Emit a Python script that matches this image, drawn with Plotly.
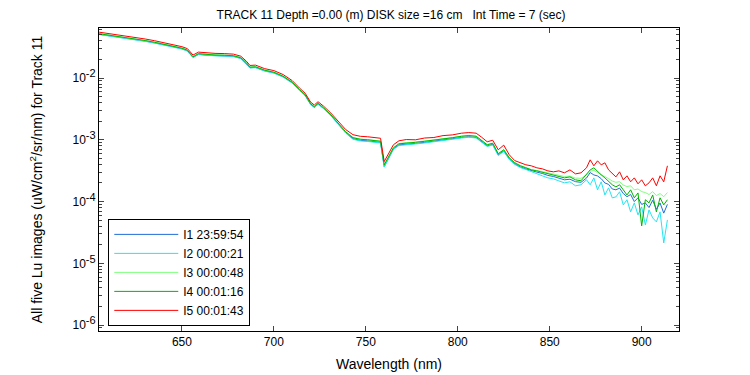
import plotly.graph_objects as go

wavelength = [605, 610, 615, 620, 625, 630, 635, 640, 645, 650,
              653, 656, 659, 663, 668, 673, 678,
              682, 685, 687, 690, 695, 700, 705, 710,
              714, 717, 720, 722, 724, 727, 731, 735, 739,
              743, 747, 751, 755, 758, 760, 762, 765, 768, 772, 777,
              782, 787, 792, 797, 802, 806, 810, 813, 816, 819,
              822, 825, 828, 831, 834, 837,
              840, 843, 846, 849, 852, 855, 858, 861, 864, 867,
              870, 872, 874, 876, 878, 880, 882, 884, 886, 888,
              890, 892, 894, 896, 898, 900, 902, 904, 906, 908,
              910, 912, 914]

lu_i1 = [5.12e-2, 4.88e-2, 4.58e-2, 4.36e-2, 4.20e-2, 3.97e-2, 3.72e-2, 3.49e-2, 3.23e-2, 2.98e-2,
         2.76e-2, 2.17e-2, 2.43e-2, 2.35e-2, 2.31e-2, 2.29e-2, 2.25e-2,
         2.09e-2, 1.73e-2, 1.47e-2, 1.49e-2, 1.31e-2, 1.22e-2, 1.05e-2, 8.38e-3,
         6.33e-3, 5.25e-3, 3.75e-3, 3.36e-3, 3.82e-3, 3.23e-3, 2.49e-3, 1.78e-3, 1.31e-3,
         1.04e-3, 9.80e-4, 9.60e-4, 9.42e-4, 9.08e-4, 3.70e-4, 4.85e-4, 7.12e-4, 8.27e-4, 8.58e-4, 8.75e-4,
         9.08e-4, 9.42e-4, 9.98e-4, 1.04e-3, 1.09e-3, 1.12e-3, 1.09e-3, 9.42e-4, 7.97e-4, 8.43e-4,
         5.69e-4, 6.61e-4, 4.91e-4, 4.07e-4, 3.64e-4, 3.38e-4,
         3.15e-4, 3.00e-4, 2.85e-4, 2.65e-4, 2.55e-4, 2.40e-4, 2.25e-4, 2.30e-4, 2.10e-4, 2.05e-4,
         2.40e-4, 2.95e-4, 2.70e-4, 2.60e-4, 2.35e-4, 2.00e-4, 1.90e-4, 1.60e-4, 1.55e-4, 1.65e-4,
         1.35e-4, 1.20e-4, 1.30e-4, 1.00e-4, 1.15e-4, 9.0e-5, 9.5e-5, 8.0e-5, 1.05e-4, 7.5e-5,
         9.5e-5, 6.5e-5, 9.0e-5]

lu_i2 = [5.06e-2, 4.83e-2, 4.53e-2, 4.32e-2, 4.16e-2, 3.93e-2, 3.69e-2, 3.45e-2, 3.20e-2, 2.95e-2,
         2.74e-2, 2.14e-2, 2.41e-2, 2.33e-2, 2.29e-2, 2.27e-2, 2.23e-2,
         2.07e-2, 1.72e-2, 1.46e-2, 1.47e-2, 1.30e-2, 1.20e-2, 1.04e-2, 8.29e-3,
         6.27e-3, 5.20e-3, 3.72e-3, 3.33e-3, 3.78e-3, 3.20e-3, 2.46e-3, 1.76e-3, 1.29e-3,
         1.02e-3, 9.59e-4, 9.40e-4, 9.22e-4, 8.89e-4, 3.62e-4, 4.75e-4, 6.97e-4, 8.09e-4, 8.40e-4, 8.56e-4,
         8.89e-4, 9.22e-4, 9.78e-4, 1.02e-3, 1.07e-3, 1.10e-3, 1.07e-3, 9.22e-4, 7.80e-4, 8.25e-4,
         5.57e-4, 6.48e-4, 4.80e-4, 3.99e-4, 3.56e-4, 3.31e-4,
         3.03e-4, 2.81e-4, 2.61e-4, 2.42e-4, 2.33e-4, 2.16e-4, 2.01e-4, 2.09e-4, 1.80e-4, 1.87e-4,
         2.25e-4, 1.87e-4, 2.42e-4, 1.55e-4, 2.09e-4, 1.28e-4, 1.67e-4, 1.15e-4, 1.19e-4, 1.44e-4,
         8.84e-5, 1.07e-4, 6.81e-5, 9.53e-5, 6.09e-5, 8.21e-5, 4.19e-5, 7.34e-5, 5.44e-5, 4.69e-5,
         6.81e-5, 2.14e-5, 5.05e-5]

lu_i3 = [5.25e-2, 5.00e-2, 4.70e-2, 4.47e-2, 4.31e-2, 4.07e-2, 3.82e-2, 3.58e-2, 3.32e-2, 3.06e-2,
         2.84e-2, 2.23e-2, 2.50e-2, 2.42e-2, 2.38e-2, 2.36e-2, 2.32e-2,
         2.15e-2, 1.79e-2, 1.51e-2, 1.53e-2, 1.35e-2, 1.25e-2, 1.08e-2, 8.62e-3,
         6.52e-3, 5.41e-3, 3.87e-3, 3.47e-3, 3.94e-3, 3.33e-3, 2.57e-3, 1.84e-3, 1.37e-3,
         1.10e-3, 1.03e-3, 1.01e-3, 9.92e-4, 9.56e-4, 3.90e-4, 5.08e-4, 7.45e-4, 8.70e-4, 9.05e-4, 9.20e-4,
         9.55e-4, 9.92e-4, 1.05e-3, 1.09e-3, 1.15e-3, 1.18e-3, 1.15e-3, 9.90e-4, 8.40e-4, 8.85e-4,
         6.00e-4, 6.95e-4, 5.18e-4, 4.30e-4, 3.85e-4, 3.57e-4,
         3.30e-4, 3.20e-4, 3.05e-4, 2.90e-4, 2.80e-4, 2.65e-4, 2.55e-4, 2.58e-4, 2.40e-4, 2.38e-4,
         2.70e-4, 3.10e-4, 3.20e-4, 2.95e-4, 2.75e-4, 2.55e-4, 2.35e-4, 2.15e-4, 2.05e-4, 2.10e-4,
         1.85e-4, 1.75e-4, 1.80e-4, 1.55e-4, 1.60e-4, 1.45e-4, 1.40e-4, 1.30e-4, 1.45e-4, 1.25e-4,
         1.35e-4, 1.20e-4, 1.40e-4]

lu_i4 = [5.22e-2, 4.98e-2, 4.67e-2, 4.45e-2, 4.29e-2, 4.05e-2, 3.80e-2, 3.56e-2, 3.30e-2, 3.04e-2,
         2.82e-2, 2.21e-2, 2.48e-2, 2.40e-2, 2.36e-2, 2.34e-2, 2.30e-2,
         2.13e-2, 1.77e-2, 1.50e-2, 1.52e-2, 1.34e-2, 1.24e-2, 1.07e-2, 8.55e-3,
         6.46e-3, 5.36e-3, 3.83e-3, 3.43e-3, 3.90e-3, 3.30e-3, 2.54e-3, 1.82e-3, 1.35e-3,
         1.08e-3, 1.02e-3, 1.00e-3, 9.81e-4, 9.46e-4, 3.93e-4, 5.11e-4, 7.42e-4, 8.61e-4, 8.94e-4, 9.11e-4,
         9.46e-4, 9.81e-4, 1.04e-3, 1.08e-3, 1.14e-3, 1.17e-3, 1.14e-3, 9.81e-4, 8.30e-4, 8.78e-4,
         5.93e-4, 6.89e-4, 5.11e-4, 4.24e-4, 3.79e-4, 3.52e-4,
         3.26e-4, 3.14e-4, 2.97e-4, 2.81e-4, 2.71e-4, 2.56e-4, 2.42e-4, 2.51e-4, 2.25e-4, 2.17e-4,
         2.81e-4, 3.26e-4, 3.52e-4, 3.03e-4, 2.71e-4, 2.42e-4, 2.09e-4, 1.87e-4, 1.73e-4, 1.87e-4,
         1.55e-4, 1.28e-4, 1.55e-4, 1.15e-4, 1.38e-4, 4.04e-5, 1.07e-4, 9.53e-5, 1.28e-4, 6.81e-5,
         1.15e-4, 8.84e-5, 1.07e-4]

lu_i5 = [5.53e-2, 5.28e-2, 4.95e-2, 4.72e-2, 4.55e-2, 4.29e-2, 4.03e-2, 3.77e-2, 3.50e-2, 3.22e-2,
         2.99e-2, 2.36e-2, 2.63e-2, 2.55e-2, 2.51e-2, 2.49e-2, 2.44e-2,
         2.26e-2, 1.88e-2, 1.60e-2, 1.62e-2, 1.42e-2, 1.32e-2, 1.14e-2, 9.07e-3,
         6.86e-3, 5.69e-3, 4.07e-3, 3.66e-3, 4.14e-3, 3.51e-3, 2.71e-3, 1.96e-3, 1.47e-3,
         1.21e-3, 1.14e-3, 1.12e-3, 1.10e-3, 1.06e-3, 4.45e-4, 5.72e-4, 8.31e-4, 9.64e-4, 1.01e-3, 1.00e-3,
         1.07e-3, 1.09e-3, 1.17e-3, 1.20e-3, 1.28e-3, 1.31e-3, 1.28e-3, 1.10e-3, 9.30e-4, 9.83e-4,
         6.90e-4, 8.20e-4, 5.72e-4, 4.60e-4, 4.24e-4, 3.94e-4,
         3.79e-4, 3.52e-4, 3.39e-4, 3.14e-4, 3.03e-4, 3.14e-4, 2.92e-4, 3.26e-4, 2.81e-4, 2.92e-4,
         3.52e-4, 4.74e-4, 3.79e-4, 4.57e-4, 3.93e-4, 4.24e-4, 3.26e-4, 2.81e-4, 2.51e-4, 3.03e-4,
         2.25e-4, 2.61e-4, 2.09e-4, 2.42e-4, 1.94e-4, 2.25e-4, 1.80e-4, 2.01e-4, 2.42e-4, 1.80e-4,
         2.61e-4, 2.09e-4, 3.79e-4]

series_names = ["I1 23:59:54", "I2 00:00:21", "I3 00:00:48", "I4 00:01:16", "I5 00:01:43"]
series_values = [lu_i1, lu_i2, lu_i3, lu_i4, lu_i5]
series_colors = ["#1f6fd6", "#22e6f2", "#80ff80", "#00b400", "#ff0000"]

x_ticks = [650, 700, 750, 800, 850, 900]
y_ticks = [1e-6, 1e-5, 1e-4, 1e-3, 1e-2]
y_exponents = ["-6", "-5", "-4", "-3", "-2"]

title_text = "TRACK 11 Depth =0.00 (m) DISK size =16 cm   Int Time = 7 (sec)"
x_title = "Wavelength (nm)"
y_title = "All five Lu images (uW/cm<sup>2</sup>/sr/nm) for Track 11"

y_tick_text = ["10<sup><span style='font-size:11px'>%s</span></sup>" % e for e in y_exponents]

fig = go.Figure()
for name, vals, col in zip(series_names, series_values, series_colors):
    fig.add_trace(go.Scatter(x=wavelength, y=vals, mode="lines", name=name,
                             line=dict(color=col, width=1)))

font_family = "Liberation Sans, Arial, sans-serif"
fig.update_layout(
    width=750, height=375,
    margin=dict(l=91, r=79, t=20, b=52, autoexpand=False),
    paper_bgcolor="white", plot_bgcolor="white",
    font=dict(family=font_family, size=12, color="black"),
    title=dict(text=title_text, x=0.5107, xanchor="center", y=0.9813, yanchor="middle",
               font=dict(size=12), automargin=False),
    showlegend=True,
    legend=dict(x=0.016, y=0.37, xanchor="left", yanchor="top",
                bordercolor="black", borderwidth=1, bgcolor="white",
                itemwidth=64,
                font=dict(size=12), tracegroupgap=0),
)
fig.update_xaxes(range=[604.9, 920.3], tickvals=x_ticks, ticks="inside", ticklen=5,
                 showline=True, linecolor="black", linewidth=1, mirror="ticks",
                 showgrid=False, zeroline=False, automargin=False,
                 title=dict(text=x_title, standoff=10))
fig.update_yaxes(type="log", range=[-6.0956, -1.1896], tickvals=y_ticks, ticktext=y_tick_text,
                 ticks="inside", ticklen=5,
                 minor=dict(ticks="inside", ticklen=3, dtick="D1", showgrid=False),
                 showline=True, linecolor="black", linewidth=1, mirror="ticks",
                 showgrid=False, zeroline=False, automargin=False,
                 title=dict(text=y_title, standoff=26))

fig.write_html("out.html")
